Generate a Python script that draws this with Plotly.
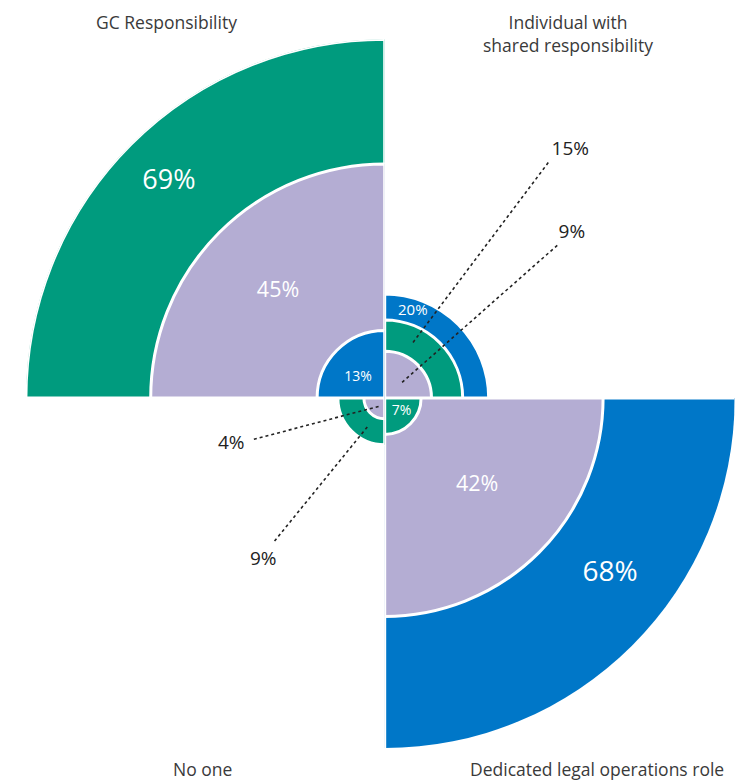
import plotly.graph_objects as go

# ---- data -------------------------------------------------------------
categories = ["GC Responsibility", "Individual with shared responsibility",
              "Dedicated legal operations role", "No one"]
green_vals = [69, 15, 7, 9]
purple_vals = [45, 9, 42, 4]
blue_vals = [13, 20, 68, 0]

# ---- styling ----------------------------------------------------------
GREEN, PURPLE, BLUE = "#009B7E", "#B4ADD3", "#0077C8"
FONT = "Open Sans"
W, H = 735, 780
CX, CY = 384.7, 398.0        # pixel position of the common centre
K = 5.2                      # pixels per percentage point

# one polar subplot per quadrant: centre angle, sector, pixel radius
quad_theta = [135, 45, 315, 225]
quad_sector = [[90, 180], [0, 90], [270, 360], [180, 270]]
quad_radius = [359, 350, 350, 350]

# in-bar labels: (quadrant, series, angle, position inside band, font size)
inner_labels = [
    (0, "green", 135, 0.57, 27), (0, "purple", 135, 0.5, 21.5), (0, "blue", 142, 0.5, 14),
    (1, "blue", 72, 0.5, 15),
    (2, "blue", 322, 0.5, 28), (2, "purple", 316.5, 0.5, 21.5), (2, "green", 320.5, 0.6, 14),
]
# callouts: (quadrant, series, inner angle, outer r, outer angle, label r, label angle)
callouts = [
    (1, "green", 63, 55.3, 55.2, 59.6, 53.2),
    (1, "purple", 42, 44.7, 41.5, 47.9, 41.3),
    (3, "purple", 234, 26.7, 197.5, 30.8, 196.7),
    (3, "green", 239, 34.8, 232.4, 39.0, 233.2),
]

series = {"green": (green_vals, GREEN), "purple": (purple_vals, PURPLE),
          "blue": (blue_vals, BLUE)}


def band(q, name):
    """Inner and outer radius of a series' ring in quadrant q."""
    v = series[name][0][q]
    below = [series[s][0][q] for s in series if series[s][0][q] < v]
    return (max(below) if below else 0), v


fig = go.Figure()
layout_polars = {}

for q in range(4):
    pid = "polar" if q == 0 else f"polar{q + 1}"
    sub = pid
    R = quad_radius[q]
    s0, s1 = quad_sector[q]
    if s0 == 90:
        x0, x1, y0, y1 = CX - R, CX, CY - R, CY
    elif s0 == 0:
        x0, x1, y0, y1 = CX, CX + R, CY - R, CY
    elif s0 == 270:
        x0, x1, y0, y1 = CX, CX + R, CY, CY + R
    else:
        x0, x1, y0, y1 = CX - R, CX, CY, CY + R
    layout_polars[pid] = dict(
        domain=dict(x=[x0 / W, x1 / W], y=[1 - y1 / H, 1 - y0 / H]),
        sector=quad_sector[q],
        barmode="overlay",
        bgcolor="rgba(0,0,0,0)",
        radialaxis=dict(range=[0, R / K], visible=False, showgrid=False),
        angularaxis=dict(visible=False, showgrid=False),
    )

    # largest ring first so smaller ones sit on top
    order = sorted(series, key=lambda s: -series[s][0][q])
    for name in order:
        vals, col = series[name]
        if vals[q] <= 0:
            continue
        fig.add_trace(go.Barpolar(
            r=[vals[q]], theta=[quad_theta[q]], width=[90],
            marker=dict(color=col, line=dict(color="white", width=3)),
            subplot=sub, hoverinfo="skip", showlegend=False,
        ))

    for (lq, name, ang, frac, size) in inner_labels:
        if lq != q:
            continue
        lo, hi = band(q, name)
        fig.add_trace(go.Scatterpolar(
            r=[lo + (hi - lo) * frac], theta=[ang], mode="text",
            text=[f"{series[name][0][q]}%"],
            textfont=dict(color="white", size=size, family=FONT),
            textposition="middle center", cliponaxis=False,
            subplot=sub, hoverinfo="skip", showlegend=False,
        ))

    for (lq, name, ang_in, r_out, ang_out, r_lab, ang_lab) in callouts:
        if lq != q:
            continue
        lo, hi = band(q, name)
        fig.add_trace(go.Scatterpolar(
            r=[(lo + hi) / 2, r_out], theta=[ang_in, ang_out], mode="lines",
            line=dict(color="#222222", width=1.6, dash="dot"),
            cliponaxis=False, subplot=sub, hoverinfo="skip", showlegend=False,
        ))
        fig.add_trace(go.Scatterpolar(
            r=[r_lab], theta=[ang_lab], mode="text",
            text=[f"{series[name][0][q]}%"],
            textfont=dict(color="#222222", size=19, family=FONT),
            textposition="middle center", cliponaxis=False,
            subplot=sub, hoverinfo="skip", showlegend=False,
        ))

# quadrant titles
title_pos = [(166, 22), (568, 34), (597, 769), (202, 769)]
title_text = ["GC Responsibility", "Individual with<br>shared responsibility",
              "Dedicated legal operations role", "No one"]
annotations = []
for (px, py), txt in zip(title_pos, title_text):
    annotations.append(dict(
        x=px / W, y=1 - py / H, xref="paper", yref="paper", text=txt,
        showarrow=False, xanchor="center", yanchor="middle",
        font=dict(family=FONT, size=17.5, color="#3a3a3a"),
    ))

fig.update_layout(
    width=W, height=H, autosize=False,
    margin=dict(l=0, r=0, t=0, b=0),
    paper_bgcolor="white", plot_bgcolor="white",
    showlegend=False, annotations=annotations,
    **layout_polars,
)

fig.write_html("out.html")
